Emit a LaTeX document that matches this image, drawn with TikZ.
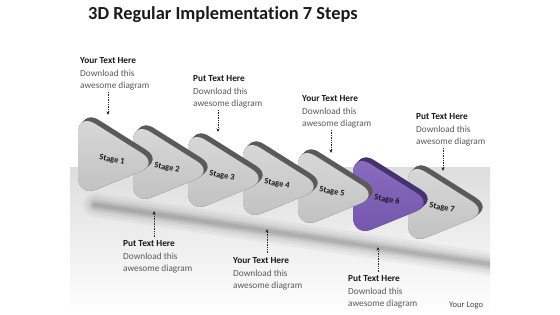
\documentclass[tikz,border=0pt]{standalone}
\usepackage{fontspec}
\setmainfont[Ligatures=NoCommon]{Carlito}
\usetikzlibrary{arrows.meta}
\definecolor{facetop}{HTML}{DADADA}
\definecolor{facebot}{HTML}{C0C0C0}
\definecolor{edgegray}{HTML}{5A5A5A}
\definecolor{purtop}{HTML}{8A6EC0}
\definecolor{purbot}{HTML}{7355AC}
\definecolor{puredge}{HTML}{46326E}
\definecolor{bodygray}{HTML}{595959}
\definecolor{titleblack}{HTML}{1A1A1A}
\tikzset{
  stagetext/.style={font=\bfseries\fontsize{8.5}{9}\selectfont, text=titleblack, rotate=-10, inner sep=0},
  infobox/.style={anchor=base west, align=left, inner sep=0, font=\fontsize{9.3}{12.2}\selectfont, text=bodygray},
  pointer/.style={densely dotted, line width=0.7pt, draw=black!85, -{Stealth[length=3.5pt,width=3pt]}},
}
\newcommand{\tri}{(78,113) -- (159,164) -- (78,197) -- cycle}
\begin{document}
\begin{tikzpicture}[x=1pt,y=-1pt]
\useasboundingbox (0,0) rectangle (560,315);
\fill[white] (0,0) rectangle (560,315);
% floor panel
\shade[top color=black!13, bottom color=white] (70,168) rectangle (490,315);
% soft shadow under the row
\begin{scope}
  \clip (70,168) rectangle (490,315);
  \foreach \w/\o in {24/0.035, 18/0.045, 12/0.06, 8/0.07, 4/0.08}
    \draw[line width=\w pt, black, opacity=\o, line cap=round] (95,205) -- (495,265);
\end{scope}
% title
\node[anchor=base west, inner sep=0, font=\bfseries\fontsize{18.4}{20}\selectfont, text=titleblack] (title) at (88,20) {3D Regular Implementation 7 Steps};
% stages, drawn back to front
\foreach \k in {6,5,...,0}{
  \ifnum\k=5
    \def\ec{puredge}\def\ft{purtop}\def\fb{purbot}
  \else
    \def\ec{edgegray}\def\ft{facetop}\def\fb{facebot}
  \fi
  \begin{scope}[shift={(55*\k,8*\k)}]
    \foreach \s in {0,0.5,...,4}
      \fill[\ec, rounded corners=20pt, shift={(\s,-0.9*\s)}] \tri;
    \shade[top color=\ft, bottom color=\fb, rounded corners=20pt] \tri;
  \end{scope}
}
% stage captions
\foreach \k in {0,...,6}{
  \pgfmathtruncatemacro\n{\k+1}
  \node[stagetext] (s\n) at (112+55*\k,160+8*\k) {Stage \n};
}
% labels (base anchor = baseline of last line)
\node[infobox] (t1) at (80,88.4) {\textcolor{titleblack}{\bfseries Your Text Here}\\Download this\\awesome diagram};
\node[infobox] (t2) at (193,106.4) {\textcolor{titleblack}{\bfseries Put Text Here}\\Download this\\awesome diagram};
\node[infobox] (t3) at (302,126.4) {\textcolor{titleblack}{\bfseries Your Text Here}\\Download this\\awesome diagram};
\node[infobox] (t4) at (416,144.4) {\textcolor{titleblack}{\bfseries Put Text Here}\\Download this\\awesome diagram};
\node[infobox] (b1) at (123,271.4) {\textcolor{titleblack}{\bfseries Put Text Here}\\Download this\\awesome diagram};
\node[infobox] (b2) at (233,288.4) {\textcolor{titleblack}{\bfseries Your Text Here}\\Download this\\awesome diagram};
\node[infobox] (b3) at (348,306.4) {\textcolor{titleblack}{\bfseries Put Text Here}\\Download this\\awesome diagram};
\node[anchor=base west, inner sep=0, font=\fontsize{8.5}{10}\selectfont, text=titleblack!80] (logo) at (449,308) {Your Logo};
% pointer ends
\coordinate (a1s) at (108,92);  \coordinate (a1e) at (108,115);
\coordinate (a2s) at (218,110); \coordinate (a2e) at (218,132);
\coordinate (a3s) at (331,130); \coordinate (a3e) at (331,153);
\coordinate (a4s) at (443,148); \coordinate (a4e) at (443,171);
\coordinate (a5s) at (154,237); \coordinate (a5e) at (154,211);
\coordinate (a6s) at (267,253); \coordinate (a6e) at (267,229);
\coordinate (a7s) at (378,272); \coordinate (a7e) at (378,247);
\foreach \i in {1,...,7} \draw[pointer] (a\i s) -- (a\i e);
\end{tikzpicture}
\end{document}
